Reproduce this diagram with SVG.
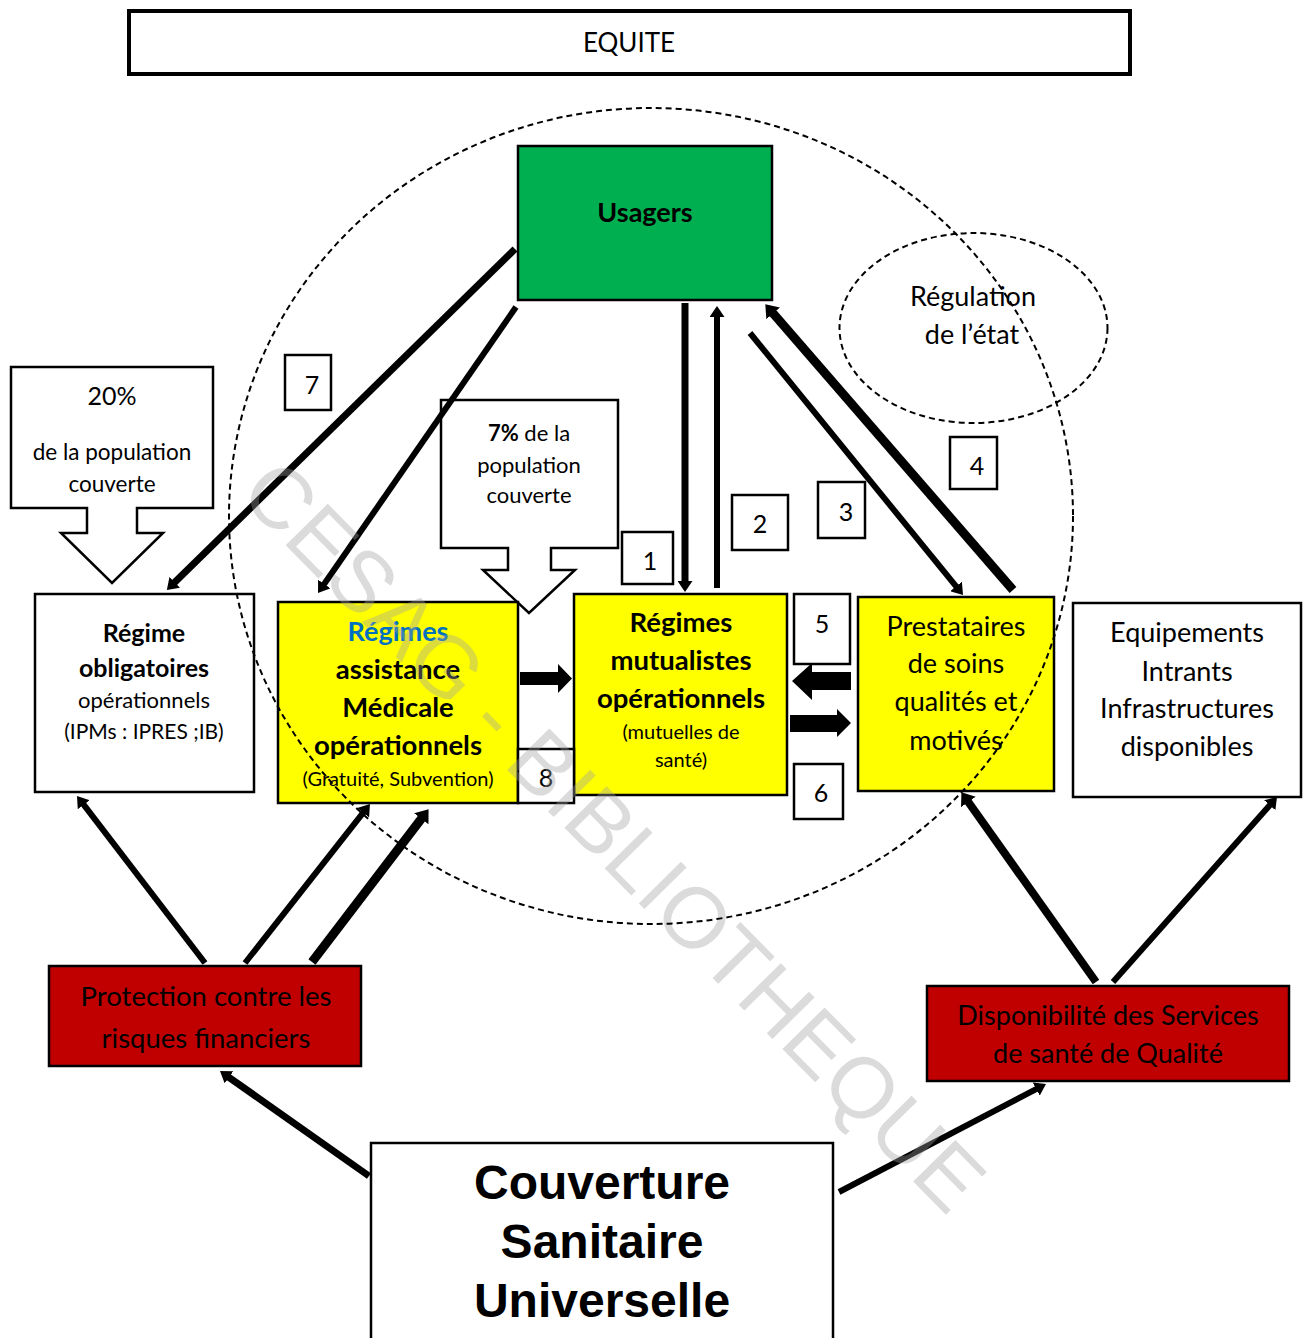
<svg xmlns="http://www.w3.org/2000/svg" width="1306" height="1338" viewBox="0 0 1306 1338">
<style>
.box{stroke:#000;stroke-width:2.5}
.w{fill:#fff}
.y{fill:#ffff00}
.t{font-family:Lato,"Liberation Sans",sans-serif;text-anchor:middle;fill:#000}
.b{font-weight:bold}
.conn{stroke:#000;fill:none}
.num{font-family:Lato,"Liberation Sans",sans-serif;text-anchor:middle;font-size:25px}
.csu{font-family:"Liberation Sans",Arial,sans-serif;font-weight:bold;font-size:48px;text-anchor:middle}
</style>
<defs>
<marker id="ah" markerUnits="userSpaceOnUse" markerWidth="11" markerHeight="15" viewBox="0 0 11 15" refX="1" refY="7.5" orient="auto" preserveAspectRatio="none">
<path d="M0,0 L11,7.5 L0,15 z" fill="#000"/>
</marker>
<marker id="ahb" markerUnits="userSpaceOnUse" markerWidth="12" markerHeight="18" viewBox="0 0 12 18" refX="1" refY="9" orient="auto" preserveAspectRatio="none">
<path d="M0,0 L12,9 L0,18 z" fill="#000"/>
</marker>
</defs>
<rect width="1306" height="1338" fill="#fff"/>

<g id="equite">
<rect x="129" y="11" width="1001" height="63" fill="#fff" stroke="#000" stroke-width="4"/>
<text class="t" x="629" y="52" font-size="26">EQUITE</text>
</g>

<g id="usagers">
<rect class="box" x="518" y="146" width="254" height="154" fill="#00b050"/>
<text class="t b" x="645" y="222" font-size="27">Usagers</text>
</g>

<g id="regulation">
<ellipse cx="973.5" cy="328" rx="134" ry="95" fill="none" stroke="#000" stroke-width="2" stroke-dasharray="6,4"/>
<text class="t" x="973" y="306" font-size="27">Régulation</text>
<text class="t" x="972" y="344" font-size="27">de l’état</text>
</g>

<g id="callout20">
<path d="M11,367 H213 V508 H137 V533 H163 L112,583 L61,533 H87 V508 H11 Z" fill="#fff" stroke="#000" stroke-width="2.5"/>
<text class="t" x="112" y="405" font-size="25">20%</text>
<text class="t" x="112" y="460" font-size="22.5">de la population</text>
<text class="t" x="112" y="492" font-size="22.5">couverte</text>
</g>

<g id="callout7">
<path d="M441,400 H618 V548 H551 V570 H575 L529,613 L483,570 H508 V548 H441 Z" fill="#fff" stroke="#000" stroke-width="2.5"/>
<text class="t" x="529" y="441" font-size="22"><tspan font-weight="bold">7%</tspan> de la</text>
<text class="t" x="529" y="473" font-size="22">population</text>
<text class="t" x="529" y="503" font-size="22">couverte</text>
</g>

<g id="regime-obligatoires">
<rect class="box w" x="35" y="594" width="219" height="198"/>
<text class="t b" x="144" y="642" font-size="25">Régime</text>
<text class="t b" x="144" y="677" font-size="25">obligatoires</text>
<text class="t" x="144" y="708" font-size="22">opérationnels</text>
<text class="t" x="144" y="739" font-size="21">(IPMs : IPRES ;IB)</text>
</g>

<g id="regimes-assistance">
<rect class="box y" x="278" y="602" width="240" height="201"/>
<text class="t b" x="398" y="641" font-size="27" style="fill:#0070c0">Régimes</text>
<text class="t b" x="398" y="679" font-size="27.5">assistance</text>
<text class="t b" x="398" y="717" font-size="27.5">Médicale</text>
<text class="t b" x="398" y="755" font-size="27.5">opérationnels</text>
<text class="t" x="398" y="786" font-size="20">(Gratuité, Subvention)</text>
</g>

<g id="regimes-mutualistes">
<rect class="box y" x="574" y="594" width="213" height="201"/>
<text class="t b" x="681" y="632" font-size="27.5">Régimes</text>
<text class="t b" x="681" y="670" font-size="27.5">mutualistes</text>
<text class="t b" x="681" y="708" font-size="27.5">opérationnels</text>
<text class="t" x="681" y="739" font-size="20">(mutuelles de</text>
<text class="t" x="681" y="767" font-size="20">santé)</text>
</g>

<g id="prestataires">
<rect class="box y" x="858" y="597" width="196" height="194"/>
<text class="t" x="956" y="636" font-size="27">Prestataires</text>
<text class="t" x="956" y="673" font-size="27">de soins</text>
<text class="t" x="956" y="711" font-size="27">qualités et</text>
<text class="t" x="956" y="750" font-size="27">motivés</text>
</g>

<g id="equipements">
<rect class="box w" x="1073" y="603" width="228" height="194"/>
<text class="t" x="1187" y="642" font-size="27">Equipements</text>
<text class="t" x="1187" y="681" font-size="27">Intrants</text>
<text class="t" x="1187" y="718" font-size="27">Infrastructures</text>
<text class="t" x="1187" y="756" font-size="27">disponibles</text>
</g>

<g id="protection">
<rect class="box" x="49" y="966" width="312" height="100" fill="#c00000"/>
<text class="t" x="206" y="1006" font-size="27.5">Protection contre les</text>
<text class="t" x="206" y="1048" font-size="27.5">risques financiers</text>
</g>

<g id="disponibilite">
<rect class="box" x="927" y="986" width="362" height="95" fill="#c00000"/>
<text class="t" x="1108" y="1025" font-size="27">Disponibilité des Services</text>
<text class="t" x="1108" y="1063" font-size="27">de santé de Qualité</text>
</g>

<g id="csu">
<rect class="box w" x="371" y="1143" width="462" height="200"/>
<text class="csu" x="602" y="1199">Couverture</text>
<text class="csu" x="602" y="1258">Sanitaire</text>
<text class="csu" x="602" y="1317">Universelle</text>
</g>

<g id="labels">
<g id="n7"><rect class="box w" x="285" y="355" width="46" height="55" stroke-width="2"/><text class="num" x="312" y="394">7</text></g>
<g id="n1"><rect class="box w" x="622" y="532" width="51" height="52" stroke-width="2"/><text class="num" x="650" y="570">1</text></g>
<g id="n2"><rect class="box w" x="732" y="495" width="56" height="55" stroke-width="2"/><text class="num" x="760" y="533">2</text></g>
<g id="n3"><rect class="box w" x="818" y="482" width="47" height="56" stroke-width="2"/><text class="num" x="846" y="521">3</text></g>
<g id="n4"><rect class="box w" x="950" y="437" width="47" height="52" stroke-width="2"/><text class="num" x="977" y="475">4</text></g>
<g id="n5"><rect class="box w" x="794" y="594" width="56" height="70" stroke-width="2"/><text class="num" x="822" y="633">5</text></g>
<g id="n6"><rect class="box w" x="794" y="764" width="49" height="55" stroke-width="2"/><text class="num" x="821" y="802">6</text></g>
<g id="n8"><rect class="box w" x="518" y="749" width="56" height="54" stroke-width="2"/><text class="num" x="546" y="787">8</text></g>
</g>

<g id="connectors">
<line class="conn" x1="515" y1="249" x2="174" y2="583" stroke-width="7" marker-end="url(#ah)"/>
<line class="conn" x1="516" y1="307" x2="323.7" y2="584.8" stroke-width="6" marker-end="url(#ah)"/>
<line class="conn" x1="685" y1="303" x2="685" y2="582" stroke-width="7" marker-end="url(#ah)"/>
<line class="conn" x1="717" y1="588" x2="717" y2="316" stroke-width="6" marker-end="url(#ah)"/>
<line class="conn" x1="750" y1="333" x2="956.7" y2="587.2" stroke-width="6" marker-end="url(#ah)"/>
<line class="conn" x1="1013" y1="590" x2="772.5" y2="312.6" stroke-width="9" marker-end="url(#ahb)"/>
<line class="conn" x1="205" y1="963" x2="83.1" y2="803.9" stroke-width="6" marker-end="url(#ah)"/>
<line class="conn" x1="245" y1="963" x2="363.8" y2="811.9" stroke-width="6" marker-end="url(#ah)"/>
<line class="conn" x1="312" y1="962" x2="421.9" y2="818" stroke-width="9" marker-end="url(#ahb)"/>
<line class="conn" x1="369" y1="1176" x2="228.2" y2="1076.8" stroke-width="7" marker-end="url(#ah)"/>
<line class="conn" x1="839" y1="1192" x2="1037.1" y2="1088.6" stroke-width="6" marker-end="url(#ah)"/>
<line class="conn" x1="1096" y1="982" x2="967.8" y2="801.2" stroke-width="8" marker-end="url(#ahb)"/>
<line class="conn" x1="1113" y1="982" x2="1270.4" y2="804.5" stroke-width="6" marker-end="url(#ah)"/>
<polygon points="520,672 558,672 558,664 572,678.5 558,693 558,685 520,685" fill="#000"/>
<polygon points="851,672 812,672 812,663 792,681 812,700 812,690 851,690" fill="#000"/>
<polygon points="790,715 837,715 837,709 851,723 837,737 837,732 790,732" fill="#000"/>
</g>

<text id="watermark" transform="translate(615,835) rotate(45.4)" x="0" y="31" text-anchor="middle" font-family="'Liberation Sans',Arial,sans-serif" font-size="86" fill="#a0a0a0" fill-opacity="0.38">CESAG - BIBLIOTHEQUE</text>

<ellipse id="perimetre" cx="651" cy="516" rx="422" ry="408" fill="none" stroke="#000" stroke-width="2" stroke-dasharray="6,4"/>
</svg>
